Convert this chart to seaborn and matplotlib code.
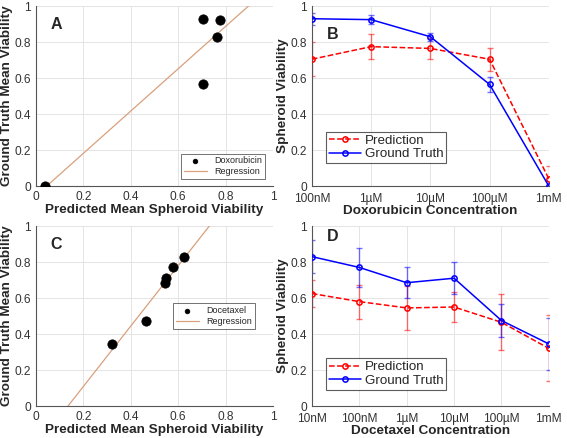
import numpy as np
import pandas as pd
import matplotlib
matplotlib.use("Agg")
import matplotlib.pyplot as plt
import seaborn as sns

sns.set_style("white")
plt.rcParams["font.family"] = ["Liberation Sans", "DejaVu Sans"]

# Doxorubicin
dox_conc = ["100nM", "1\u00b5M", "10\u00b5M", "100\u00b5M", "1mM"]
dox_pred = [0.705, 0.775, 0.765, 0.705, 0.04]
dox_pred_err = [0.095, 0.07, 0.058, 0.065, 0.07]
dox_gt = [0.93, 0.925, 0.83, 0.565, 0.0]
dox_gt_err = [0.033, 0.025, 0.022, 0.04, 0.005]

# Docetaxel
doc_conc = ["10nM", "100nM", "1\u00b5M", "10\u00b5M", "100\u00b5M", "1mM"]
doc_pred = [0.625, 0.58, 0.545, 0.55, 0.465, 0.32]
doc_pred_err = [0.075, 0.095, 0.12, 0.083, 0.155, 0.183]
doc_gt = [0.83, 0.77, 0.685, 0.71, 0.475, 0.345]
doc_gt_err = [0.09, 0.11, 0.085, 0.09, 0.093, 0.145]

fig = plt.figure(figsize=(5.67, 4.38), dpi=100)
axA = fig.add_axes([0.0635, 0.575, 0.418, 0.411])
axB = fig.add_axes([0.550, 0.575, 0.418, 0.411])
axC = fig.add_axes([0.0635, 0.073, 0.418, 0.411])
axD = fig.add_axes([0.550, 0.073, 0.418, 0.411])

lab_fs = 9.7
tick_fs = 8.6
reg_color = "#d9a07c"


def style(ax):
    ax.grid(True, color="#e4e4e4", linewidth=0.7)
    ax.set_axisbelow(True)
    for s in ["top", "right"]:
        ax.spines[s].set_visible(False)
    for s in ["left", "bottom"]:
        ax.spines[s].set_color("#555555")
        ax.spines[s].set_linewidth(0.8)
    ax.tick_params(axis="both", labelsize=tick_fs, colors="#333333",
                   direction="in", length=2)
    ax.tick_params(axis="y", pad=3.5)
    ax.tick_params(axis="x", pad=3.5)
    ax.set_ylim(0, 1)
    ax.set_yticks([0, 0.2, 0.4, 0.6, 0.8, 1])
    ax.set_yticklabels(["0", "0.2", "0.4", "0.6", "0.8", "1"])


def scatter_panel(ax, pred, gt, name, letter, legend_loc, legend_anchor):
    ax.set_xlim(0, 1)
    df = pd.DataFrame({"pred": pred, "gt": gt})
    sns.scatterplot(data=df, x="pred", y="gt", ax=ax, color="black",
                    s=45, edgecolor="black", label=name, zorder=3)
    sns.regplot(data=df, x="pred", y="gt", ax=ax, scatter=False, ci=None,
                truncate=False, color=reg_color,
                line_kws={"linewidth": 0.9}, label="Regression")
    style(ax)
    ax.set_xlim(0, 1)
    ax.set_xticks([0, 0.2, 0.4, 0.6, 0.8, 1])
    ax.set_xticklabels(["0", "0.2", "0.4", "0.6", "0.8", "1"])
    ax.set_xlabel("Predicted Mean Spheroid Viability", fontsize=lab_fs,
                  fontweight="bold", labelpad=1)
    ax.set_ylabel("Ground Truth Mean Viability", fontsize=lab_fs,
                  fontweight="bold", labelpad=1)
    leg = ax.legend(loc=legend_loc, bbox_to_anchor=legend_anchor, fontsize=6.5,
                    frameon=True, fancybox=False, edgecolor="#333333",
                    handlelength=2.6, borderpad=0.3, labelspacing=0.2,
                    markerscale=0.5)
    leg.get_frame().set_linewidth(0.6)
    ax.text(0.06, 0.9, letter, transform=ax.transAxes, fontsize=11.5,
            fontweight="bold", va="center", ha="left")


def line_panel(ax, conc, pred, pred_err, gt, gt_err, drug, letter, legend_anchor, letter_y):
    x = np.arange(len(conc))
    df = pd.DataFrame({"x": np.concatenate([x, x]),
                       "v": pred + gt,
                       "series": ["Prediction"] * len(x) + ["Ground Truth"] * len(x)})
    ax.errorbar(x, pred, yerr=pred_err, fmt="none", ecolor=(1, 0, 0, 0.55),
                elinewidth=1, capsize=2.5, capthick=1, zorder=2)
    ax.errorbar(x, gt, yerr=gt_err, fmt="none", ecolor=(0, 0, 1, 0.55),
                elinewidth=1, capsize=2.5, capthick=1, zorder=2)
    sns.lineplot(data=df[df.series == "Prediction"], x="x", y="v", ax=ax,
                 color="red", linestyle="--", linewidth=1.1, marker="o",
                 markersize=3.8, markerfacecolor="none", markeredgecolor="red",
                 markeredgewidth=1.1, label="Prediction", zorder=3)
    sns.lineplot(data=df[df.series == "Ground Truth"], x="x", y="v", ax=ax,
                 color="blue", linestyle="-", linewidth=1.1, marker="o",
                 markersize=3.8, markerfacecolor="none", markeredgecolor="blue",
                 markeredgewidth=1.1, label="Ground Truth", zorder=4)
    style(ax)
    ax.tick_params(axis="x", pad=5)
    ax.set_xlim(0, len(conc) - 1)
    ax.set_xticks(x)
    ax.set_xticklabels(conc)
    ax.set_xlabel(drug + " Concentration", fontsize=lab_fs,
                  fontweight="bold", labelpad=0)
    ax.set_ylabel("Spheroid Viability", fontsize=lab_fs,
                  fontweight="bold", labelpad=1)
    leg = ax.legend(loc="lower left", bbox_to_anchor=legend_anchor, fontsize=9.6,
                    frameon=True, fancybox=False, edgecolor="#333333",
                    handlelength=2.4, borderpad=0.2, labelspacing=0.1,
                    handletextpad=0.3, borderaxespad=0)
    leg.get_frame().set_linewidth(0.8)
    ax.text(0.063, letter_y, letter, transform=ax.transAxes, fontsize=11.5,
            fontweight="bold", va="center", ha="left")


scatter_panel(axA, dox_pred, dox_gt, "Doxorubicin", "A", "lower right", (0.985, 0.015))
scatter_panel(axC, doc_pred, doc_gt, "Docetaxel", "C", "center", (0.75, 0.5))
line_panel(axB, dox_conc, dox_pred, dox_pred_err, dox_gt, dox_gt_err,
           "Doxorubicin", "B", (0.06, 0.128), 0.845)
line_panel(axD, doc_conc, doc_pred, doc_pred_err, doc_gt, doc_gt_err,
           "Docetaxel", "D", (0.06, 0.09), 0.94)

fig.savefig("out.png", dpi=100)
